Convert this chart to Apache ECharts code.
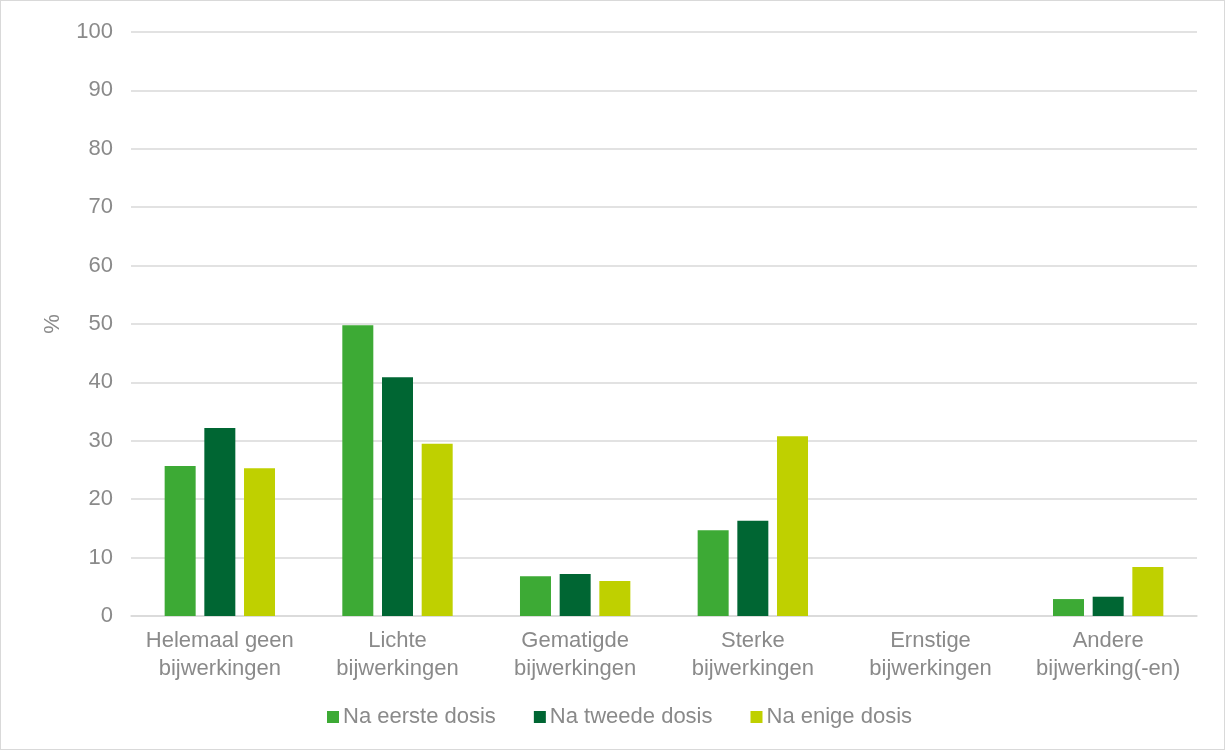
<!DOCTYPE html>
<html>
<head>
<meta charset="utf-8">
<script src="https://cdn.jsdelivr.net/npm/echarts@6/dist/echarts.min.js"></script>
<style>
  html, body { margin: 0; padding: 0; background: #fff; }
  #chart { width: 1223px; height: 748px; border: 1px solid #d9d9d9; }
</style>
</head>
<body>
<div id="chart"></div>
<script>
// Bijwerkingen na vaccinatie, percentage per type
const categories = [
  'Helemaal geen\nbijwerkingen',
  'Lichte\nbijwerkingen',
  'Gematigde\nbijwerkingen',
  'Sterke\nbijwerkingen',
  'Ernstige\nbijwerkingen',
  'Andere\nbijwerking(-en)'
];
const eersteDosis = [25.7, 49.8, 6.8, 14.7, 0, 2.9];
const tweedeDosis = [32.2, 40.9, 7.2, 16.3, 0, 3.3];
const enigeDosis  = [25.3, 29.5, 6.0, 30.8, 0, 8.4];
const seriesNames = ['Na eerste dosis', 'Na tweede dosis', 'Na enige dosis'];
const seriesColors = ['#3DAA35', '#006633', '#BFD000'];

const textColor = '#8a8a8a';
const font = 'Arial, "Liberation Sans", sans-serif';

const chart = echarts.init(document.getElementById('chart'));
const values = [eersteDosis, tweedeDosis, enigeDosis];

chart.setOption({
  animation: false,
  textStyle: { fontFamily: font },
  grid: { left: 130, right: 27, top: 31, bottom: 133, containLabel: false },
  legend: {
    bottom: 16,
    left: 321,
    itemWidth: 12,
    itemHeight: 12,
    itemGap: 38,
    icon: 'rect',
    textStyle: { color: textColor, fontSize: 22, fontFamily: font, padding: [0, 0, 0, -1] },
    data: seriesNames
  },
  xAxis: {
    type: 'category',
    data: categories,
    axisLine: { lineStyle: { color: '#d9d9d9', width: 1.5 } },
    axisTick: { show: false },
    axisLabel: { color: textColor, fontSize: 22, lineHeight: 28, margin: 11, interval: 0 }
  },
  yAxis: {
    type: 'value',
    min: 0,
    max: 100,
    interval: 10,
    name: '%',
    nameLocation: 'middle',
    nameGap: 67,
    nameRotate: 90,
    nameTextStyle: { color: textColor, fontSize: 22 },
    axisLine: { show: false },
    axisTick: { show: false },
    axisLabel: { color: textColor, fontSize: 22, margin: 18 },
    splitLine: { lineStyle: { color: '#d9d9d9', width: 1.5 } }
  },
  series: values.map((v, i) => ({
    name: seriesNames[i],
    type: 'bar',
    data: v,
    barWidth: 31,
    barGap: '28%',
    itemStyle: { color: seriesColors[i] }
  }))
});
</script>
</body>
</html>
